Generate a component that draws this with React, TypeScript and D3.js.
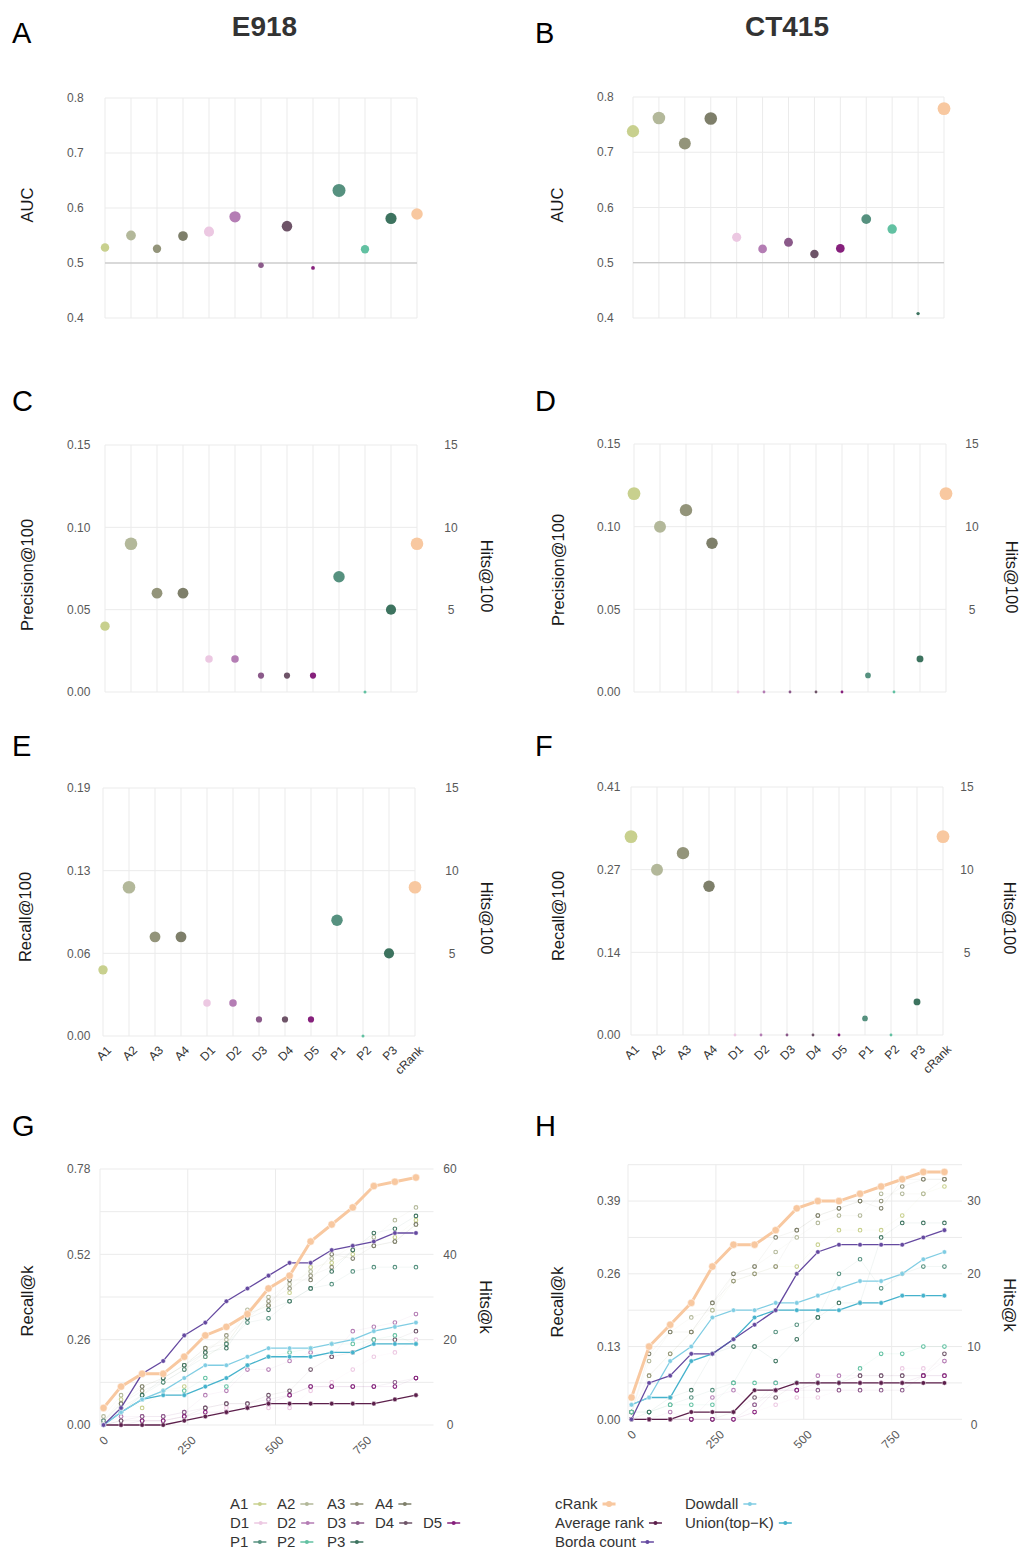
import React, { useEffect, useRef } from "react";
import * as d3 from "d3";

const FONT = "'Liberation Sans', Arial, Helvetica, sans-serif";

// ---------- categories & colours ----------
const methods = ["A1", "A2", "A3", "A4", "D1", "D2", "D3", "D4", "D5", "P1", "P2", "P3", "cRank"];
const methodColors = ["#c8d08e", "#b3b89a", "#93947a", "#7e7f6a", "#ecc8e2", "#b47db4", "#8b5a8a", "#6e5468", "#86207c", "#56917f", "#62c1a2", "#3d735f", "#f8c8a0"];

// ---------- panels A/B : AUC ----------
const aucE918 = [0.528, 0.55, 0.526, 0.549, 0.557, 0.584, 0.496, 0.567, 0.491, 0.632, 0.525, 0.581, 0.589];
const aucCT415 = [0.738, 0.762, 0.716, 0.761, 0.546, 0.525, 0.537, 0.516, 0.526, 0.579, 0.561, 0.408, 0.779];
const aucTicks = [0.4, 0.5, 0.6, 0.7, 0.8];

// ---------- panels C-F : hits@100 ----------
const hits100E918 = [4, 9, 6, 6, 2, 2, 1, 1, 1, 7, 0, 5, 9];
const hits100CT415 = [12, 10, 11, 9, 0, 0, 0, 0, 0, 1, 0, 2, 12];
const precTicks = [0, 0.05, 0.1, 0.15];
const hitsTicks100 = [0, 5, 10, 15];
const hitsRightTicks100 = [5, 10, 15];
const recall100LabelsE918 = ["0.00", "0.06", "0.13", "0.19"];
const recall100LabelsCT415 = ["0.00", "0.14", "0.27", "0.41"];

// ---------- panels G/H : hits@k ----------
const kValues = [10, 60, 120, 180, 240, 300, 360, 420, 480, 540, 600, 660, 720, 780, 840, 900];
const kTicks = [0, 250, 500, 750];

const kE918_cRank = [4, 9, 12, 12, 16, 21, 23, 26, 32, 35, 43, 47, 51, 56, 57, 58];
const kE918_borda = [0, 4, 12, 15, 21, 24, 29, 32, 35, 38, 38, 41, 42, 43, 45, 45];
const kE918_dowdall = [0, 3, 6, 8, 11, 14, 14, 16, 18, 18, 18, 19, 20, 22, 23, 24];
const kE918_union = [0, 3, 6, 7, 7, 9, 11, 14, 16, 16, 16, 17, 17, 19, 19, 19];
const kE918_avg = [0, 0, 0, 0, 1, 2, 3, 4, 5, 5, 5, 5, 5, 5, 6, 7];
const kE918_methods = [
  [1, 6, 4, 8, 9, 16, 19, 26, 28, 31, 37, 38, 40, 43, 44, 48],
  [2, 7, 9, 11, 14, 18, 20, 27, 30, 33, 36, 39, 42, 44, 48, 51],
  [1, 5, 8, 10, 13, 17, 21, 25, 29, 32, 35, 37, 41, 42, 43, 47],
  [1, 5, 9, 11, 14, 18, 19, 26, 28, 34, 34, 40, 39, 42, 43, 47],
  [1, 2, 1, 1, 2, 2, 4, 4, 4, 4, 8, 10, 13, 16, 17, 20],
  [0, 2, 2, 2, 3, 7, 8, 13, 13, 15, 17, 16, 22, 23, 24, 26],
  [0, 1, 2, 2, 3, 4, 5, 5, 6, 7, 9, 9, 9, 9, 10, 11],
  [0, 1, 1, 1, 2, 4, 5, 5, 7, 8, 13, 16, 17, 20, 20, 22],
  [0, 0, 1, 1, 2, 3, 3, 4, 5, 7, 9, 9, 9, 9, 9, 11],
  [1, 4, 7, 10, 13, 16, 19, 24, 25, 29, 32, 33, 36, 37, 37, 37],
  [0, 3, 6, 8, 8, 11, 9, 14, 16, 17, 18, 19, 19, 20, 21, 19],
  [0, 3, 7, 11, 14, 17, 18, 25, 27, 29, 32, 36, 41, 45, 46, 49],
];
const kE918_leftTicks = [0, 20, 40, 60];
const kE918_leftLabels = ["0.00", "0.26", "0.52", "0.78"];
const kE918_grid = [0, 10, 20, 30, 40, 50, 60];

const kCT415_cRank = [3, 10, 13, 16, 21, 24, 24, 26, 29, 30, 30, 31, 32, 33, 34, 34];
const kCT415_borda = [0, 5, 6, 9, 9, 11, 13, 15, 20, 23, 24, 24, 24, 24, 25, 26];
const kCT415_dowdall = [2, 3, 8, 10, 14, 15, 15, 16, 16, 17, 18, 19, 19, 20, 22, 23];
const kCT415_union = [2, 3, 3, 8, 9, 11, 14, 15, 15, 15, 15, 16, 16, 17, 17, 17];
const kCT415_avg = [0, 0, 0, 1, 1, 1, 4, 4, 5, 5, 5, 5, 5, 5, 5, 5];
const kCT415_methods = [
  [0, 6, 9, 12, 15, 19, 20, 21, 21, 24, 26, 26, 26, 28, 31, 32],
  [1, 8, 12, 14, 15, 20, 21, 23, 25, 27, 28, 28, 31, 31, 31, 33],
  [1, 6, 9, 12, 16, 19, 20, 21, 26, 28, 29, 30, 30, 32, 33, 33],
  [1, 9, 12, 12, 16, 20, 21, 25, 26, 28, 29, 30, 29, 33, 33, 33],
  [0, 0, 0, 0, 0, 0, 1, 2, 3, 3, 4, 4, 5, 7, 7, 8],
  [0, 0, 1, 0, 3, 4, 2, 5, 4, 6, 6, 6, 6, 6, 6, 8],
  [0, 0, 0, 0, 0, 0, 2, 4, 4, 4, 4, 4, 4, 4, 6, 6],
  [0, 0, 0, 0, 0, 1, 3, 3, 5, 5, 5, 6, 6, 6, 6, 9],
  [0, 0, 0, 0, 0, 0, 1, 4, 4, 5, 5, 5, 5, 5, 6, 6],
  [1, 1, 2, 3, 4, 5, 10, 12, 13, 14, 20, 22, 18, 20, 21, 21],
  [1, 1, 2, 2, 2, 5, 5, 5, 5, 5, 5, 7, 9, 9, 10, 10],
  [0, 1, 3, 4, 9, 10, 10, 8, 11, 14, 16, 16, 25, 27, 27, 27],
];
const kCT415_leftTicks = [0, 10, 20, 30];
const kCT415_leftLabels = ["0.00", "0.13", "0.26", "0.39"];
const kCT415_grid = [0, 5, 10, 15, 20, 25, 30, 35];

// ---------- combination methods (legend) ----------
const comboNames = ["cRank", "Average rank", "Borda count", "Dowdall", "Union(top\u2212K)"];
const comboColors = ["#f8c8a0", "#5c1f4b", "#6549a0", "#80cde3", "#45b2cc"];

const GRID = "#ebebeb";
const TICK = "#595959";
const TITLE = "#1a1a1a";

type Sel = d3.Selection<SVGGElement, unknown, null, undefined>;

interface DotCfg {
  x0: number; x1: number; yTop: number; yBottom: number;
  domain: [number, number]; values: number[];
  leftTicks: number[]; leftLabels: string[]; leftLabelX: number;
  leftTitle: string; leftTitleX: number; leftTitleY: number;
  rightDomain?: [number, number]; rightTicks?: number[]; rightLabelX?: number;
  rightTitle?: string; rightTitleX?: number; rightTitleY?: number;
  refLine?: number; rRange: [number, number]; xLabels?: boolean;
}

function dotPanel(g: Sel, c: DotCfg) {
  const x = d3.scalePoint<string>().domain(methods).range([c.x0, c.x1]);
  const y = d3.scaleLinear().domain(c.domain).range([c.yBottom, c.yTop]);
  g.append("g").selectAll("line").data(methods).join("line")
    .attr("x1", (d) => x(d)!).attr("x2", (d) => x(d)!)
    .attr("y1", c.yTop).attr("y2", c.yBottom)
    .attr("stroke", GRID).attr("stroke-width", 1);
  g.append("g").selectAll("line").data(c.leftTicks).join("line")
    .attr("x1", c.x0).attr("x2", c.x1)
    .attr("y1", (d) => y(d)).attr("y2", (d) => y(d))
    .attr("stroke", GRID).attr("stroke-width", 1);
  if (c.refLine !== undefined) {
    g.append("line").attr("x1", c.x0).attr("x2", c.x1)
      .attr("y1", y(c.refLine)).attr("y2", y(c.refLine))
      .attr("stroke", "#bdbdbd").attr("stroke-width", 1);
  }
  g.append("g").selectAll("text").data(c.leftTicks).join("text")
    .attr("x", c.leftLabelX).attr("y", (d) => y(d)).attr("dy", "0.35em")
    .attr("font-size", 12).attr("fill", TICK).attr("font-family", FONT)
    .text((_d, i) => c.leftLabels[i]);
  g.append("text")
    .attr("transform", `translate(${c.leftTitleX},${c.leftTitleY}) rotate(-90)`)
    .attr("text-anchor", "middle").attr("font-size", 16.5).attr("fill", TITLE)
    .attr("font-family", FONT).text(c.leftTitle);
  if (c.rightDomain && c.rightTicks) {
    const yr = d3.scaleLinear().domain(c.rightDomain).range([c.yBottom, c.yTop]);
    g.append("g").selectAll("text").data(c.rightTicks).join("text")
      .attr("x", c.rightLabelX!).attr("y", (d) => yr(d)).attr("dy", "0.35em")
      .attr("text-anchor", "middle")
      .attr("font-size", 12).attr("fill", TICK).attr("font-family", FONT)
      .text((d) => String(d));
    g.append("text")
      .attr("transform", `translate(${c.rightTitleX},${c.rightTitleY}) rotate(90)`)
      .attr("text-anchor", "middle").attr("font-size", 16.5).attr("fill", TITLE)
      .attr("font-family", FONT).text(c.rightTitle!);
  }
  const vmin = d3.min(c.values)!;
  const vmax = d3.max(c.values)!;
  const rad = (v: number) => c.rRange[0] + Math.sqrt((v - vmin) / (vmax - vmin)) * (c.rRange[1] - c.rRange[0]);
  g.append("g").selectAll("circle").data(c.values).join("circle")
    .attr("cx", (_d, i) => x(methods[i])!).attr("cy", (d) => y(d))
    .attr("r", (d) => rad(d))
    .attr("fill", (_d, i) => methodColors[i]);
  if (c.xLabels) {
    g.append("g").selectAll("text").data(methods).join("text")
      .attr("transform", (d) => `translate(${x(d)! + 6},${c.yBottom + 12}) rotate(-45)`)
      .attr("text-anchor", "end").attr("dy", "0.35em")
      .attr("font-size", 12).attr("fill", "#333").attr("font-family", FONT)
      .text((d) => d);
  }
}

interface LineCfg {
  x0: number; x1: number; yTop: number; yBottom: number; hMax: number;
  grid: number[]; leftTicks: number[]; leftLabels: string[]; leftLabelX: number;
  leftTitleX: number; leftTitleY: number; rightLabelX: number; rightTitleX: number; rightTitleY: number;
  methodsData: number[][]; cRank: number[]; borda: number[]; dowdall: number[]; union: number[]; avg: number[];
  rightZeroDy: number;
}

function linePanel(g: Sel, c: LineCfg) {
  const x = d3.scaleLinear().domain([0, 950]).range([c.x0, c.x1]);
  const y = d3.scaleLinear().domain([0, c.hMax]).range([c.yBottom, c.yTop]);
  g.append("g").selectAll("line").data(c.grid).join("line")
    .attr("x1", c.x0).attr("x2", c.x1)
    .attr("y1", (d) => y(d)).attr("y2", (d) => y(d))
    .attr("stroke", GRID).attr("stroke-width", 1);
  g.append("g").selectAll("line").data(kTicks).join("line")
    .attr("x1", (d) => x(d)).attr("x2", (d) => x(d))
    .attr("y1", c.yTop).attr("y2", c.yBottom)
    .attr("stroke", GRID).attr("stroke-width", 1);
  g.append("g").selectAll("text").data(c.leftTicks).join("text")
    .attr("x", c.leftLabelX).attr("y", (d) => y(d)).attr("dy", "0.35em")
    .attr("font-size", 12).attr("fill", TICK).attr("font-family", FONT)
    .text((_d, i) => c.leftLabels[i]);
  g.append("g").selectAll("text").data(c.leftTicks).join("text")
    .attr("x", c.rightLabelX).attr("y", (d) => y(d) + (d === 0 ? c.rightZeroDy : 0)).attr("dy", "0.35em")
    .attr("text-anchor", "middle")
    .attr("font-size", 12).attr("fill", TICK).attr("font-family", FONT)
    .text((d) => String(d));
  g.append("text")
    .attr("transform", `translate(${c.leftTitleX},${c.leftTitleY}) rotate(-90)`)
    .attr("text-anchor", "middle").attr("font-size", 16.5).attr("fill", TITLE)
    .attr("font-family", FONT).text("Recall@k");
  g.append("text")
    .attr("transform", `translate(${c.rightTitleX},${c.rightTitleY}) rotate(90)`)
    .attr("text-anchor", "middle").attr("font-size", 16.5).attr("fill", TITLE)
    .attr("font-family", FONT).text("Hits@k");
  g.append("g").selectAll("text").data(kTicks).join("text")
    .attr("transform", (d) => `translate(${x(d) + 6},${c.yBottom + 13}) rotate(-45)`)
    .attr("text-anchor", "end").attr("dy", "0.35em")
    .attr("font-size", 12).attr("fill", TICK).attr("font-family", FONT)
    .text((d) => String(d));

  const line = d3.line<number>().x((_d, i) => x(kValues[i])).y((d) => y(d));
  c.methodsData.forEach((arr, mi) => {
    g.append("path").attr("d", line(arr)!).attr("fill", "none")
      .attr("stroke", methodColors[mi]).attr("stroke-opacity", 0.07).attr("stroke-width", 1);
  });
  c.methodsData.forEach((arr, mi) => {
    g.append("g").selectAll("circle").data(arr).join("circle")
      .attr("cx", (_d, i) => x(kValues[i])).attr("cy", (d) => y(d))
      .attr("r", 1.8).attr("fill", "#fff")
      .attr("stroke", methodColors[mi]).attr("stroke-width", 1.1);
  });
  const mains: [number[], number, number, number][] = [
    [c.avg, 1, 1.3, 2.3],
    [c.union, 4, 1.3, 2.3],
    [c.dowdall, 3, 1.3, 2.3],
    [c.borda, 2, 1.3, 2.3],
    [c.cRank, 0, 3, 3.7],
  ];
  mains.forEach(([arr, ci, sw, r]) => {
    g.append("path").attr("d", line(arr)!).attr("fill", "none")
      .attr("stroke", comboColors[ci]).attr("stroke-width", sw);
    g.append("g").selectAll("circle").data(arr).join("circle")
      .attr("cx", (_d, i) => x(kValues[i])).attr("cy", (d) => y(d))
      .attr("r", r).attr("fill", comboColors[ci])
      .attr("stroke", "#fff").attr("stroke-width", 0.5);
  });
}

function legendItem(g: Sel, xPos: number, yBase: number, label: string, color: string, thick: boolean) {
  const t = g.append("text").attr("x", xPos).attr("y", yBase)
    .attr("font-size", 15).attr("fill", "#333").attr("font-family", FONT).text(label);
  const w = (t.node() as SVGTextElement).getComputedTextLength();
  const sx = xPos + w + 5;
  const cy = yBase - 5;
  g.append("line").attr("x1", sx).attr("x2", sx + 13).attr("y1", cy).attr("y2", cy)
    .attr("stroke", color).attr("stroke-width", thick ? 3 : 1.5);
  g.append("circle").attr("cx", sx + 6.5).attr("cy", cy).attr("r", thick ? 3 : 2).attr("fill", color);
}

function draw(svgEl: SVGSVGElement) {
  const svg = d3.select(svgEl);
  svg.selectAll("*").remove();
  const g = svg.append("g") as unknown as Sel;

  g.append("text").attr("x", 264.5).attr("y", 36).attr("text-anchor", "middle")
    .attr("font-size", 28).attr("font-weight", "bold").attr("fill", "#333").attr("font-family", FONT).text("E918");
  g.append("text").attr("x", 787).attr("y", 36).attr("text-anchor", "middle")
    .attr("font-size", 28).attr("font-weight", "bold").attr("fill", "#333").attr("font-family", FONT).text("CT415");
  const letters: [string, number, number][] = [
    ["A", 12, 43], ["B", 535, 43], ["C", 12, 411], ["D", 535, 411],
    ["E", 12, 756], ["F", 535, 756], ["G", 12, 1136], ["H", 535, 1136],
  ];
  g.append("g").selectAll("text").data(letters).join("text")
    .attr("x", (d) => d[1]).attr("y", (d) => d[2])
    .attr("font-size", 29).attr("fill", "#000").attr("font-family", FONT).text((d) => d[0]);

  const aucLabels = aucTicks.map((t) => d3.format(".1f")(t));
  const precLabels = precTicks.map((t) => d3.format(".2f")(t));

  dotPanel(g, {
    x0: 105, x1: 417, yTop: 98, yBottom: 318, domain: [0.4, 0.8], values: aucE918,
    leftTicks: aucTicks, leftLabels: aucLabels, leftLabelX: 67,
    leftTitle: "AUC", leftTitleX: 33, leftTitleY: 205, refLine: 0.5, rRange: [1.9, 6.5],
  });
  dotPanel(g, {
    x0: 633, x1: 944, yTop: 97, yBottom: 318, domain: [0.4, 0.8], values: aucCT415,
    leftTicks: aucTicks, leftLabels: aucLabels, leftLabelX: 597,
    leftTitle: "AUC", leftTitleX: 563, leftTitleY: 205, refLine: 0.5, rRange: [1.7, 6.4],
  });
  dotPanel(g, {
    x0: 105, x1: 417, yTop: 445, yBottom: 692, domain: [0, 0.15], values: hits100E918.map((h) => h / 100),
    leftTicks: precTicks, leftLabels: precLabels, leftLabelX: 67,
    leftTitle: "Precision@100", leftTitleX: 33, leftTitleY: 575,
    rightDomain: [0, 15], rightTicks: hitsRightTicks100, rightLabelX: 451,
    rightTitle: "Hits@100", rightTitleX: 481, rightTitleY: 576, rRange: [1.5, 6.3],
  });
  dotPanel(g, {
    x0: 634, x1: 946, yTop: 444, yBottom: 692, domain: [0, 0.15], values: hits100CT415.map((h) => h / 100),
    leftTicks: precTicks, leftLabels: precLabels, leftLabelX: 597,
    leftTitle: "Precision@100", leftTitleX: 564, leftTitleY: 570,
    rightDomain: [0, 15], rightTicks: hitsRightTicks100, rightLabelX: 972,
    rightTitle: "Hits@100", rightTitleX: 1006, rightTitleY: 577, rRange: [1.4, 6.4],
  });
  dotPanel(g, {
    x0: 103, x1: 415, yTop: 788, yBottom: 1036, domain: [0, 15], values: hits100E918,
    leftTicks: hitsTicks100, leftLabels: recall100LabelsE918, leftLabelX: 67,
    leftTitle: "Recall@100", leftTitleX: 31, leftTitleY: 917,
    rightDomain: [0, 15], rightTicks: hitsRightTicks100, rightLabelX: 452,
    rightTitle: "Hits@100", rightTitleX: 481, rightTitleY: 918, rRange: [1.5, 6.3], xLabels: true,
  });
  dotPanel(g, {
    x0: 631, x1: 943, yTop: 787, yBottom: 1035, domain: [0, 15], values: hits100CT415,
    leftTicks: hitsTicks100, leftLabels: recall100LabelsCT415, leftLabelX: 597,
    leftTitle: "Recall@100", leftTitleX: 564, leftTitleY: 916,
    rightDomain: [0, 15], rightTicks: hitsRightTicks100, rightLabelX: 967,
    rightTitle: "Hits@100", rightTitleX: 1004, rightTitleY: 918, rRange: [1.4, 6.4], xLabels: true,
  });

  linePanel(g, {
    x0: 100, x1: 433.5, yTop: 1169, yBottom: 1425, hMax: 60, grid: kE918_grid,
    leftTicks: kE918_leftTicks, leftLabels: kE918_leftLabels, leftLabelX: 67,
    leftTitleX: 33, leftTitleY: 1301, rightLabelX: 450, rightTitleX: 480, rightTitleY: 1307,
    methodsData: kE918_methods, cRank: kE918_cRank, borda: kE918_borda, dowdall: kE918_dowdall,
    union: kE918_union, avg: kE918_avg, rightZeroDy: 0,
  });
  linePanel(g, {
    x0: 628, x1: 962, yTop: 1164.7, yBottom: 1419.3, hMax: 35, grid: kCT415_grid,
    leftTicks: kCT415_leftTicks, leftLabels: kCT415_leftLabels, leftLabelX: 597,
    leftTitleX: 563, leftTitleY: 1302, rightLabelX: 974, rightTitleX: 1004, rightTitleY: 1305,
    methodsData: kCT415_methods, cRank: kCT415_cRank, borda: kCT415_borda, dowdall: kCT415_dowdall,
    union: kCT415_union, avg: kCT415_avg, rightZeroDy: 5,
  });

  const leftCols = [230, 277, 327, 375, 423];
  const rows = [1509, 1528, 1547];
  const groups = [[0, 1, 2, 3], [4, 5, 6, 7, 8], [9, 10, 11]];
  groups.forEach((grp, ri) => {
    grp.forEach((mi, ci) => legendItem(g, leftCols[ci], rows[ri], methods[mi], methodColors[mi], false));
  });
  const comboPos: [number, number, number][] = [
    [0, 555, 0], [1, 555, 1], [2, 555, 2], [3, 685, 0], [4, 685, 1],
  ];
  comboPos.forEach(([ci, xp, ri]) => legendItem(g, xp, rows[ri], comboNames[ci], comboColors[ci], ci === 0));
}

export default function App() {
  const ref = useRef<SVGSVGElement>(null);
  useEffect(() => {
    if (ref.current) draw(ref.current);
  }, []);
  return (
    <svg
      ref={ref}
      width={1021}
      height={1552}
      style={{ position: "absolute", left: 0, top: 0, background: "#fff" }}
    />
  );
}
